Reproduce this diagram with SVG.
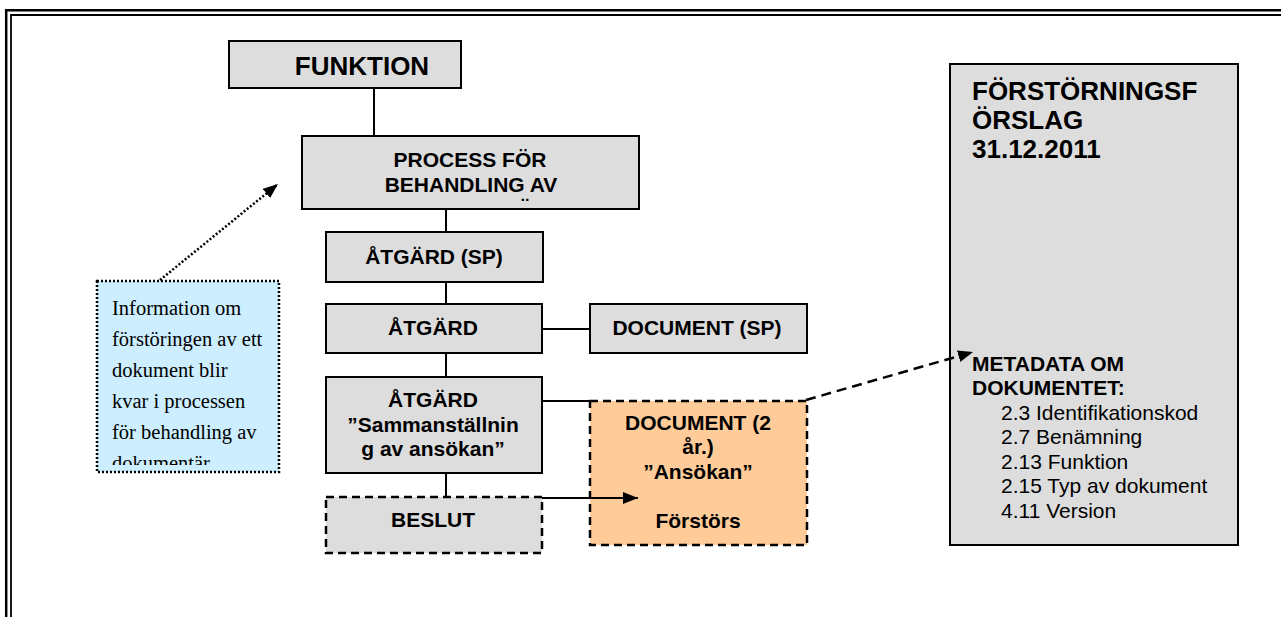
<svg xmlns="http://www.w3.org/2000/svg" width="1281" height="617" viewBox="0 0 1281 617">
<defs>
<style>
.box{fill:#dddddd;stroke:#000;stroke-width:2}
.dbox{fill:#dddddd;stroke:#000;stroke-width:2.5;stroke-dasharray:8 5}
.obox{fill:#ffcc99;stroke:#000;stroke-width:2.5;stroke-dasharray:8 5}
.b{font-family:"Liberation Sans",Arial,sans-serif;font-weight:bold;fill:#000}
.r{font-family:"Liberation Sans",Arial,sans-serif;fill:#000}
.t{font-family:"Liberation Serif","Times New Roman",serif;fill:#000;font-size:20.5px}
.ln{stroke:#000;stroke-width:2;fill:none}
</style>
<marker id="ah" markerUnits="userSpaceOnUse" markerWidth="16" markerHeight="14" refX="15" refY="6" orient="auto">
<path d="M0,0 L15,6 L0,12 Z" fill="#000"/>
</marker>
<clipPath id="infoclip"><rect x="97" y="282" width="181" height="183"/></clipPath>
<clipPath id="procclip"><rect x="303" y="137" width="335" height="71"/></clipPath>
</defs>
<rect width="1281" height="617" fill="#fff"/>
<g id="frame">
<path d="M6.2,617 V10.3 H1281" fill="none" stroke="#000" stroke-width="2.5"/>
<path d="M11,617 V15 H1281" fill="none" stroke="#000" stroke-width="1.8"/>
</g>
<g id="funktion">
<rect class="box" x="229" y="41" width="232" height="47"/>
<text class="b" x="362" y="75" font-size="26" text-anchor="middle">FUNKTION</text>
</g>
<g id="process">
<rect class="box" x="302" y="136" width="337" height="73"/>
<text class="b" x="470" y="167" font-size="21" text-anchor="middle">PROCESS FÖR</text>
<text class="b" x="471" y="192" font-size="21" text-anchor="middle">BEHANDLING AV</text>
<text class="b" x="525" y="213" font-size="21" text-anchor="middle" clip-path="url(#procclip)">¨</text>
</g>
<g id="atgard-sp">
<rect class="box" x="326" y="232" width="217" height="50"/>
<text class="b" x="434" y="264" font-size="21" text-anchor="middle">ÅTGÄRD (SP)</text>
</g>
<g id="atgard">
<rect class="box" x="326" y="304" width="216" height="49"/>
<text class="b" x="433" y="335" font-size="21" text-anchor="middle">ÅTGÄRD</text>
</g>
<g id="document-sp">
<rect class="box" x="590" y="304" width="217" height="49"/>
<text class="b" x="697" y="335" font-size="21" text-anchor="middle">DOCUMENT (SP)</text>
</g>
<g id="atgard-samman">
<rect class="box" x="326" y="377" width="216" height="96"/>
<text class="b" x="433" y="407" font-size="21" text-anchor="middle">ÅTGÄRD</text>
<text class="b" x="433" y="432" font-size="21" text-anchor="middle">”Sammanställnin</text>
<text class="b" x="433" y="456" font-size="21" text-anchor="middle">g av ansökan”</text>
</g>
<g id="beslut">
<rect class="dbox" x="326" y="497" width="216" height="56"/>
<text class="b" x="433" y="527" font-size="21" text-anchor="middle">BESLUT</text>
</g>
<g id="document-2">
<rect class="obox" x="590" y="401" width="217" height="144"/>
<text class="b" x="698" y="430" font-size="21" text-anchor="middle">DOCUMENT (2</text>
<text class="b" x="698" y="454" font-size="21" text-anchor="middle">år.)</text>
<text class="b" x="698" y="479" font-size="21" text-anchor="middle">”Ansökan”</text>
<text class="b" x="698" y="528" font-size="21" text-anchor="middle">Förstörs</text>
</g>
<g id="info">
<rect x="97" y="281" width="182" height="191" fill="#cceeff" stroke="#000" stroke-width="2.5" stroke-dasharray="2 2"/>
<g clip-path="url(#infoclip)">
<text class="t" x="112" y="315">Information om</text>
<text class="t" x="112" y="346">förstöringen av ett</text>
<text class="t" x="112" y="377">dokument blir</text>
<text class="t" x="112" y="408">kvar i processen</text>
<text class="t" x="112" y="439">för behandling av</text>
<text class="t" x="112" y="470">dokumentär</text>
</g>
</g>
<g id="forslag">
<rect class="box" x="950" y="64" width="288" height="481"/>
<text class="b" x="972" y="100" font-size="26">FÖRSTÖRNINGSF</text>
<text class="b" x="972" y="129" font-size="26">ÖRSLAG</text>
<text class="b" x="972" y="158" font-size="26">31.12.2011</text>
<text class="b" x="972" y="371" font-size="21">METADATA OM</text>
<text class="b" x="972" y="395" font-size="21">DOKUMENTET:</text>
<text class="r" x="1001" y="420" font-size="21">2.3 Identifikationskod</text>
<text class="r" x="1001" y="444" font-size="21">2.7 Benämning</text>
<text class="r" x="1001" y="469" font-size="21">2.13 Funktion</text>
<text class="r" x="1001" y="493" font-size="21">2.15 Typ av dokument</text>
<text class="r" x="1001" y="518" font-size="21">4.11 Version</text>
</g>
<g id="connectors">
<line class="ln" x1="374" y1="88" x2="374" y2="136"/>
<line class="ln" x1="446" y1="209" x2="446" y2="232"/>
<line class="ln" x1="446" y1="282" x2="446" y2="304"/>
<line class="ln" x1="446" y1="353" x2="446" y2="377"/>
<line class="ln" x1="446" y1="473" x2="446" y2="497"/>
<line class="ln" x1="542" y1="329" x2="590" y2="329"/>
<line class="ln" x1="542" y1="401" x2="590" y2="401"/>
<line class="ln" x1="542" y1="498" x2="638" y2="498" marker-end="url(#ah)"/>
<line x1="806" y1="400" x2="973" y2="352" stroke="#000" stroke-width="2.5" stroke-dasharray="10 6" marker-end="url(#ah)"/>
<line x1="160" y1="280" x2="278" y2="184" stroke="#000" stroke-width="2.5" stroke-dasharray="2 2" marker-end="url(#ah)"/>
</g>
</svg>
